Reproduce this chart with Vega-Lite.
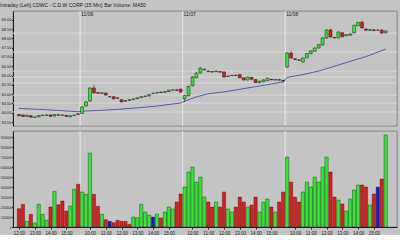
{
"$schema": "https://vega.github.io/schema/vega-lite/v6.json",
"background": "#c4c4c4",
"padding": {"left": 0, "top": 3, "right": 3, "bottom": 0},
"title": {"text": "Intraday (Left)     CDWC - C.D.W CORP (15 Min)     Bar     Volume: MA50", "anchor": "start", "fontSize": 5, "font": "Liberation Sans", "fontWeight": "normal", "color": "#202020", "offset": 2},
"spacing": 3,
"datasets": {
"bars": [
{"i":0,"o":63.90,"h":63.93,"l":63.81,"c":63.84,"v":183000},
{"i":1,"o":63.88,"h":63.90,"l":63.78,"c":63.80,"v":227000},
{"i":2,"o":63.80,"h":63.88,"l":63.78,"c":63.86,"v":57000},
{"i":3,"o":63.84,"h":63.86,"l":63.74,"c":63.76,"v":127000},
{"i":4,"o":63.75,"h":63.79,"l":63.73,"c":63.77,"v":40000},
{"i":5,"o":63.77,"h":63.87,"l":63.76,"c":63.85,"v":227000},
{"i":6,"o":63.85,"h":63.89,"l":63.84,"c":63.87,"v":127000},
{"i":7,"o":63.86,"h":63.90,"l":63.85,"c":63.88,"v":67000},
{"i":8,"o":63.88,"h":63.90,"l":63.79,"c":63.81,"v":200000},
{"i":9,"o":63.82,"h":63.92,"l":63.80,"c":63.90,"v":357000},
{"i":10,"o":63.89,"h":63.91,"l":63.86,"c":63.87,"v":223000},
{"i":11,"o":63.87,"h":63.89,"l":63.84,"c":63.86,"v":260000},
{"i":12,"o":63.86,"h":63.88,"l":63.78,"c":63.80,"v":160000},
{"i":13,"o":63.78,"h":63.86,"l":63.76,"c":63.84,"v":210000},
{"i":14,"o":63.85,"h":63.89,"l":63.84,"c":63.87,"v":377000},
{"i":15,"o":63.94,"h":63.96,"l":63.89,"c":63.91,"v":427000},
{"i":16,"o":63.96,"h":64.34,"l":63.94,"c":64.31,"v":350000},
{"i":17,"o":64.36,"h":64.62,"l":64.33,"c":64.58,"v":327000},
{"i":18,"o":64.63,"h":65.36,"l":64.58,"c":65.33,"v":740000},
{"i":19,"o":65.33,"h":65.49,"l":65.02,"c":65.06,"v":327000},
{"i":20,"o":65.08,"h":65.10,"l":65.02,"c":65.05,"v":207000},
{"i":21,"o":65.04,"h":65.09,"l":65.02,"c":65.07,"v":127000},
{"i":22,"o":65.06,"h":65.08,"l":64.93,"c":64.95,"v":73000},
{"i":23,"o":64.86,"h":64.89,"l":64.83,"c":64.86,"v":57000},
{"i":24,"o":64.86,"h":64.88,"l":64.72,"c":64.74,"v":43000},
{"i":25,"o":64.80,"h":64.82,"l":64.76,"c":64.78,"v":67000},
{"i":26,"o":64.70,"h":64.72,"l":64.56,"c":64.58,"v":57000},
{"i":27,"o":64.64,"h":64.66,"l":64.60,"c":64.62,"v":57000},
{"i":28,"o":64.69,"h":64.71,"l":64.65,"c":64.67,"v":27000},
{"i":29,"o":64.71,"h":64.76,"l":64.70,"c":64.74,"v":100000},
{"i":30,"o":64.75,"h":64.82,"l":64.74,"c":64.80,"v":93000},
{"i":31,"o":64.82,"h":64.88,"l":64.80,"c":64.86,"v":227000},
{"i":32,"o":64.87,"h":64.92,"l":64.85,"c":64.90,"v":150000},
{"i":33,"o":64.90,"h":64.99,"l":64.88,"c":64.97,"v":120000},
{"i":34,"o":65.04,"h":65.08,"l":65.01,"c":65.04,"v":100000},
{"i":35,"o":65.06,"h":65.10,"l":65.04,"c":65.08,"v":130000},
{"i":36,"o":65.11,"h":65.13,"l":65.07,"c":65.09,"v":90000},
{"i":37,"o":65.10,"h":65.15,"l":65.08,"c":65.13,"v":150000},
{"i":38,"o":65.14,"h":65.24,"l":65.12,"c":65.22,"v":200000},
{"i":39,"o":65.21,"h":65.25,"l":65.19,"c":65.23,"v":180000},
{"i":40,"o":65.23,"h":65.25,"l":65.18,"c":65.20,"v":250000},
{"i":41,"o":65.27,"h":65.29,"l":65.08,"c":65.11,"v":330000},
{"i":42,"o":64.74,"h":64.95,"l":64.58,"c":64.92,"v":400000},
{"i":43,"o":64.92,"h":65.45,"l":64.88,"c":65.40,"v":550000},
{"i":44,"o":65.45,"h":65.96,"l":65.42,"c":65.92,"v":600000},
{"i":45,"o":65.88,"h":66.18,"l":65.85,"c":66.13,"v":450000},
{"i":46,"o":66.13,"h":66.45,"l":66.10,"c":66.40,"v":500000},
{"i":47,"o":66.30,"h":66.38,"l":66.26,"c":66.34,"v":300000},
{"i":48,"o":66.24,"h":66.26,"l":66.18,"c":66.21,"v":250000},
{"i":49,"o":66.21,"h":66.23,"l":66.16,"c":66.19,"v":200000},
{"i":50,"o":66.21,"h":66.26,"l":66.19,"c":66.24,"v":250000},
{"i":51,"o":66.21,"h":66.23,"l":66.16,"c":66.18,"v":200000},
{"i":52,"o":66.19,"h":66.22,"l":65.88,"c":65.92,"v":350000},
{"i":53,"o":65.95,"h":66.00,"l":65.93,"c":65.97,"v":180000},
{"i":54,"o":65.99,"h":66.03,"l":65.97,"c":66.01,"v":150000},
{"i":55,"o":66.02,"h":66.04,"l":65.98,"c":66.00,"v":200000},
{"i":56,"o":66.05,"h":66.08,"l":65.86,"c":65.88,"v":300000},
{"i":57,"o":65.88,"h":65.90,"l":65.74,"c":65.76,"v":250000},
{"i":58,"o":65.76,"h":65.94,"l":65.74,"c":65.92,"v":200000},
{"i":59,"o":65.90,"h":65.92,"l":65.78,"c":65.80,"v":220000},
{"i":60,"o":65.78,"h":65.80,"l":65.60,"c":65.62,"v":300000},
{"i":61,"o":65.62,"h":65.72,"l":65.60,"c":65.70,"v":150000},
{"i":62,"o":65.66,"h":65.78,"l":65.64,"c":65.76,"v":250000},
{"i":63,"o":65.72,"h":65.88,"l":65.70,"c":65.86,"v":280000},
{"i":64,"o":65.80,"h":65.82,"l":65.75,"c":65.77,"v":200000},
{"i":65,"o":65.76,"h":65.80,"l":65.74,"c":65.78,"v":150000},
{"i":66,"o":65.78,"h":65.80,"l":65.73,"c":65.75,"v":250000},
{"i":67,"o":65.74,"h":65.76,"l":65.62,"c":65.70,"v":350000},
{"i":68,"o":66.46,"h":67.26,"l":66.40,"c":67.21,"v":700000},
{"i":69,"o":67.21,"h":67.30,"l":66.90,"c":66.94,"v":450000},
{"i":70,"o":66.90,"h":66.93,"l":66.84,"c":66.86,"v":300000},
{"i":71,"o":66.84,"h":66.87,"l":66.79,"c":66.82,"v":250000},
{"i":72,"o":66.73,"h":66.96,"l":66.70,"c":66.94,"v":350000},
{"i":73,"o":66.96,"h":67.20,"l":66.93,"c":67.18,"v":450000},
{"i":74,"o":67.18,"h":67.35,"l":67.15,"c":67.32,"v":400000},
{"i":75,"o":67.30,"h":67.50,"l":67.28,"c":67.48,"v":500000},
{"i":76,"o":67.48,"h":67.69,"l":67.45,"c":67.66,"v":450000},
{"i":77,"o":67.64,"h":68.05,"l":67.62,"c":68.02,"v":600000},
{"i":78,"o":68.02,"h":68.48,"l":67.98,"c":68.45,"v":700000},
{"i":79,"o":68.45,"h":68.50,"l":68.04,"c":68.07,"v":550000},
{"i":80,"o":68.05,"h":68.08,"l":67.99,"c":68.02,"v":300000},
{"i":81,"o":68.02,"h":68.37,"l":68.00,"c":68.34,"v":270000},
{"i":82,"o":68.30,"h":68.33,"l":68.05,"c":68.08,"v":230000},
{"i":83,"o":68.14,"h":68.22,"l":68.12,"c":68.20,"v":160000},
{"i":84,"o":68.16,"h":68.27,"l":68.14,"c":68.24,"v":280000},
{"i":85,"o":68.30,"h":68.73,"l":68.27,"c":68.70,"v":370000},
{"i":86,"o":68.68,"h":68.89,"l":68.65,"c":68.86,"v":420000},
{"i":87,"o":68.86,"h":68.95,"l":68.53,"c":68.56,"v":420000},
{"i":88,"o":68.50,"h":68.53,"l":68.41,"c":68.44,"v":400000},
{"i":89,"o":68.43,"h":68.50,"l":68.41,"c":68.47,"v":220000},
{"i":90,"o":68.46,"h":68.49,"l":68.40,"c":68.42,"v":330000},
{"i":91,"o":68.44,"h":68.47,"l":68.41,"c":68.44,"v":400000},
{"i":92,"o":68.45,"h":68.48,"l":68.25,"c":68.28,"v":480000},
{"i":93,"o":68.29,"h":68.43,"l":68.26,"c":68.40,"v":920000}
],
"ma": [
{"i":0,"m":64.23},{"i":5,"m":64.18},{"i":10,"m":64.12},{"i":15,"m":64.05},{"i":16,"m":64.08},{"i":20,"m":64.12},{"i":25,"m":64.18},{"i":30,"m":64.26},{"i":35,"m":64.36},{"i":41,"m":64.52},{"i":42,"m":64.62},{"i":45,"m":64.85},{"i":48,"m":65.02},{"i":52,"m":65.12},{"i":56,"m":65.26},{"i":60,"m":65.40},{"i":64,"m":65.54},{"i":67,"m":65.66},{"i":68,"m":65.90},{"i":72,"m":66.05},{"i":76,"m":66.24},{"i":80,"m":66.50},{"i":84,"m":66.76},{"i":88,"m":67.02},{"i":93,"m":67.42}
],
"days": [{"i":15.5,"d":"11/06"},{"i":41.5,"d":"11/07"},{"i":67.5,"d":"11/08"}],
"levels": [{"p":68.28},{"p":67.26},{"p":66.24},{"p":65.92},{"p":65.60},{"p":64.95},{"p":64.52},{"p":64.04}]
},
"vconcat": [
{
"width": 384, "height": 115,
"layer": [
{"data": {"name": "levels"}, "mark": {"type": "rule", "color": "#d8d8d8", "strokeWidth": 1},
 "encoding": {"y": {"field": "p", "type": "quantitative", "scale": {"domain": [63.285, 69.47], "nice": false, "zero": false},
   "axis": {"values": [63.5,64,64.5,65,65.5,66,66.5,67,67.5,68,68.5,69], "format": ".2f", "labelFontSize": 4, "labelFont": "Liberation Sans", "labelColor": "#202020", "tickSize": 1.5, "tickColor": "#202020", "labelPadding": 0.5, "domainColor": "#202020", "grid": false, "title": null, "labelOverlap": false, "minExtent": 12, "maxExtent": 12}}}},
{"data": {"name": "days"}, "mark": {"type": "rule", "color": "#e8e8e8", "strokeWidth": 1},
 "encoding": {"x": {"field": "i", "type": "quantitative", "scale": {"domain": [-0.25, 94.6], "nice": false, "zero": false}, "axis": null}}},
{"data": {"name": "days"}, "mark": {"type": "text", "align": "left", "baseline": "top", "dx": 1, "fontSize": 5, "font": "Liberation Sans", "color": "#202020"},
 "encoding": {"x": {"field": "i", "type": "quantitative", "axis": null}, "y": {"datum": 69.42, "type": "quantitative",
   "axis": {"values": [63.5,64,64.5,65,65.5,66,66.5,67,67.5,68,68.5,69], "format": ".2f", "labelFontSize": 4, "labelFont": "Liberation Sans", "labelColor": "#202020", "tickSize": 1.5, "tickColor": "#202020", "labelPadding": 0.5, "domainColor": "#202020", "grid": false, "title": null, "labelOverlap": false, "minExtent": 12, "maxExtent": 12}}, "text": {"field": "d"}}},
{"data": {"name": "ma"}, "mark": {"type": "line", "color": "#5a5aa8", "strokeWidth": 1},
 "encoding": {"x": {"field": "i", "type": "quantitative", "axis": null}, "y": {"field": "m", "type": "quantitative",
   "axis": {"values": [63.5,64,64.5,65,65.5,66,66.5,67,67.5,68,68.5,69], "format": ".2f", "labelFontSize": 4, "labelFont": "Liberation Sans", "labelColor": "#202020", "tickSize": 1.5, "tickColor": "#202020", "labelPadding": 0.5, "domainColor": "#202020", "grid": false, "title": null, "labelOverlap": false, "minExtent": 12, "maxExtent": 12}}}},
{"data": {"name": "bars"}, "mark": {"type": "rule", "color": "#202020", "strokeWidth": 0.6},
 "encoding": {"x": {"field": "i", "type": "quantitative", "axis": null}, "y": {"field": "l", "type": "quantitative",
   "axis": {"values": [63.5,64,64.5,65,65.5,66,66.5,67,67.5,68,68.5,69], "format": ".2f", "labelFontSize": 4, "labelFont": "Liberation Sans", "labelColor": "#202020", "tickSize": 1.5, "tickColor": "#202020", "labelPadding": 0.5, "domainColor": "#202020", "grid": false, "title": null, "labelOverlap": false, "minExtent": 12, "maxExtent": 12}}, "y2": {"field": "h"}}},
{"data": {"name": "bars"}, "mark": {"type": "bar", "size": 3, "stroke": "#202020", "strokeWidth": 0.5},
 "encoding": {"x": {"field": "i", "type": "quantitative", "axis": null}, "y": {"field": "o", "type": "quantitative",
   "axis": {"values": [63.5,64,64.5,65,65.5,66,66.5,67,67.5,68,68.5,69], "format": ".2f", "labelFontSize": 4, "labelFont": "Liberation Sans", "labelColor": "#202020", "tickSize": 1.5, "tickColor": "#202020", "labelPadding": 0.5, "domainColor": "#202020", "grid": false, "title": null, "labelOverlap": false, "minExtent": 12, "maxExtent": 12}}, "y2": {"field": "c"},
  "color": {"condition": [{"test": "datum.c > datum.o", "value": "#33e633"}, {"test": "datum.c < datum.o", "value": "#dd1c1c"}], "value": "#1818d0"}}}
]
},
{
"width": 384, "height": 96,
"layer": [
{"data": {"name": "days"}, "mark": {"type": "rule", "color": "#e8e8e8", "strokeWidth": 1},
 "encoding": {"x": {"field": "i", "type": "quantitative", "scale": {"domain": [-0.25, 94.6], "nice": false, "zero": false},
   "axis": {"values": [0,4,8,12,18,22,26,30,34,38,44,48,52,56,60,64,70,74,78,82,86,90],
    "labelExpr": "datum.value < 16 ? (12 + datum.value/4) + ':00' : floor(((datum.value-16)%26)*15/60 + 9.5) + ':00'",
    "labelFontSize": 4.5, "labelFont": "Liberation Sans", "labelColor": "#202020", "tickSize": 2, "tickColor": "#202020", "labelPadding": 1, "domainColor": "#202020", "grid": false, "title": null, "labelOverlap": false}}}},
{"data": {"name": "bars"}, "mark": {"type": "bar", "size": 3.3, "stroke": "#202020", "strokeWidth": 0.4},
 "encoding": {
  "x": {"field": "i", "type": "quantitative",
   "axis": {"values": [0,4,8,12,18,22,26,30,34,38,44,48,52,56,60,64,70,74,78,82,86,90],
    "labelExpr": "datum.value < 16 ? (12 + datum.value/4) + ':00' : floor(((datum.value-16)%26)*15/60 + 9.5) + ':00'",
    "labelFontSize": 4.5, "labelFont": "Liberation Sans", "labelColor": "#202020", "tickSize": 2, "tickColor": "#202020", "labelPadding": 1, "domainColor": "#202020", "grid": false, "title": null, "labelOverlap": false}},
  "y": {"field": "v", "type": "quantitative", "scale": {"domain": [0, 960000], "nice": false},
   "axis": {"values": [0,100000,200000,300000,400000,500000,600000,700000,800000,900000], "format": "d", "labelFontSize": 3.2, "labelFont": "Liberation Sans", "labelColor": "#202020", "tickSize": 1.5, "tickColor": "#202020", "labelPadding": 0.5, "domainColor": "#202020", "grid": false, "title": null, "labelOverlap": false, "minExtent": 12, "maxExtent": 12}},
  "color": {"condition": [{"test": "datum.c > datum.o", "value": "#33e633"}, {"test": "datum.c < datum.o", "value": "#dd1c1c"}], "value": "#1818d0"}}}
]
}
],
"config": {"view": {"stroke": "#606060", "strokeWidth": 0.6, "fill": "#c4c4c4"}, "axis": {"labelOverlap": false}}
}
